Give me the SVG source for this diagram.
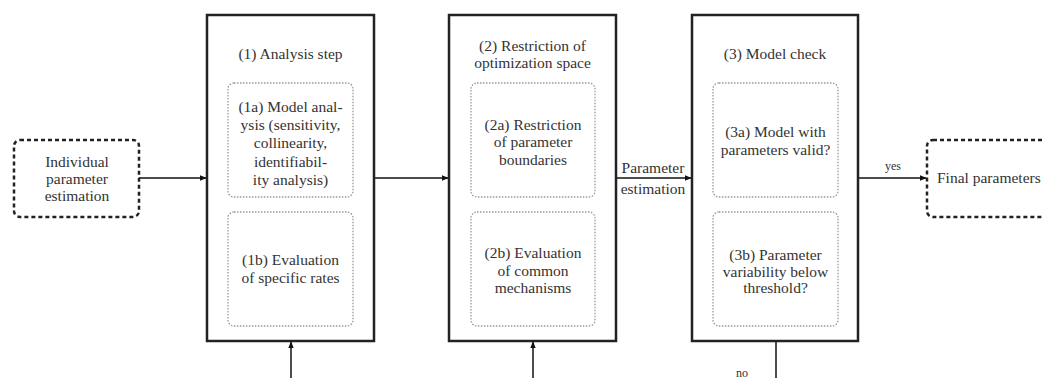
<svg xmlns="http://www.w3.org/2000/svg" width="1043" height="378" viewBox="0 0 1043 378">
  <defs>
    <marker id="arr" viewBox="0 0 10 10" refX="9" refY="5" markerWidth="7" markerHeight="7" markerUnits="userSpaceOnUse" orient="auto">
      <path d="M0,1 L10,5 L0,9 Z" fill="#111"/>
    </marker>
    <style>
      text { font-family: "Liberation Serif", "Times New Roman", serif; font-size: 15.5px; fill: #333; text-anchor: middle; }
      text.small { font-size: 12px; }
      text.left { text-anchor: start; }
      .stage { fill: #fff; stroke: #222; stroke-width: 2.5; }
      .sub { fill: #fff; stroke: #999; stroke-width: 1.3; stroke-dasharray: 1.5 1.5; }
      .term { fill: #fff; stroke: #222; stroke-width: 2.5; stroke-dasharray: 4 3; }
      .conn { fill: none; stroke: #111; stroke-width: 1.5; }
    </style>
  </defs>

  <rect width="1043" height="378" fill="#fff"/>

  <!-- connectors -->
  <g id="connectors">
    <line class="conn" x1="139" y1="178" x2="206" y2="178" marker-end="url(#arr)"/>
    <line class="conn" x1="374" y1="178" x2="448" y2="178" marker-end="url(#arr)"/>
    <line class="conn" x1="616" y1="178" x2="691" y2="178" marker-end="url(#arr)"/>
    <line class="conn" x1="858" y1="178" x2="926" y2="178" marker-end="url(#arr)"/>
    <line class="conn" x1="291" y1="378" x2="291" y2="342" marker-end="url(#arr)"/>
    <line class="conn" x1="533" y1="378" x2="533" y2="342" marker-end="url(#arr)"/>
    <line class="conn" x1="776" y1="341" x2="776" y2="378"/>
    <text x="653" y="173">Parameter</text>
    <text x="653" y="194">estimation</text>
    <text class="small" x="893" y="170">yes</text>
    <text class="small" x="742" y="377">no</text>
  </g>

  <!-- start terminal -->
  <g id="start">
    <rect class="term" x="14" y="140" width="125" height="77" rx="6"/>
    <text x="77" y="167">Individual</text>
    <text x="77" y="184">parameter</text>
    <text x="77" y="201">estimation</text>
  </g>

  <!-- stage 1 -->
  <g id="stage1">
    <rect class="stage" x="207" y="15" width="167" height="326"/>
    <text x="290.5" y="59">(1) Analysis step</text>
    <g id="stage1a">
      <rect class="sub" x="228" y="83" width="125" height="114" rx="6"/>
      <text x="290.5" y="112">(1a) Model anal-</text>
      <text x="290.5" y="130">ysis (sensitivity,</text>
      <text x="290.5" y="148">collinearity,</text>
      <text x="290.5" y="167">identifiabil-</text>
      <text x="290.5" y="185">ity analysis)</text>
    </g>
    <g id="stage1b">
      <rect class="sub" x="228" y="212" width="125" height="114" rx="6"/>
      <text x="290.5" y="265">(1b) Evaluation</text>
      <text x="290.5" y="283">of specific rates</text>
    </g>
  </g>

  <!-- stage 2 -->
  <g id="stage2">
    <rect class="stage" x="449" y="15" width="167" height="326"/>
    <text x="532.5" y="51">(2) Restriction of</text>
    <text x="532.5" y="68">optimization space</text>
    <g id="stage2a">
      <rect class="sub" x="471" y="83" width="124" height="114" rx="6"/>
      <text x="533" y="130">(2a) Restriction</text>
      <text x="533" y="147">of parameter</text>
      <text x="533" y="165">boundaries</text>
    </g>
    <g id="stage2b">
      <rect class="sub" x="471" y="212" width="124" height="114" rx="6"/>
      <text x="533" y="258">(2b) Evaluation</text>
      <text x="533" y="276">of common</text>
      <text x="533" y="293">mechanisms</text>
    </g>
  </g>

  <!-- stage 3 -->
  <g id="stage3">
    <rect class="stage" x="692" y="15" width="166" height="326"/>
    <text x="775" y="59">(3) Model check</text>
    <g id="stage3a">
      <rect class="sub" x="713" y="83" width="125" height="114" rx="6"/>
      <text x="775.5" y="137">(3a) Model with</text>
      <text x="775.5" y="155">parameters valid?</text>
    </g>
    <g id="stage3b">
      <rect class="sub" x="713" y="212" width="125" height="114" rx="6"/>
      <text x="775.5" y="260">(3b) Parameter</text>
      <text x="775.5" y="277">variability below</text>
      <text x="775.5" y="293">threshold?</text>
    </g>
  </g>

  <!-- end terminal -->
  <g id="end">
    <rect class="term" x="927" y="140" width="140" height="77" rx="6"/>
    <text class="left" x="937" y="183">Final parameters</text>
  </g>
</svg>
